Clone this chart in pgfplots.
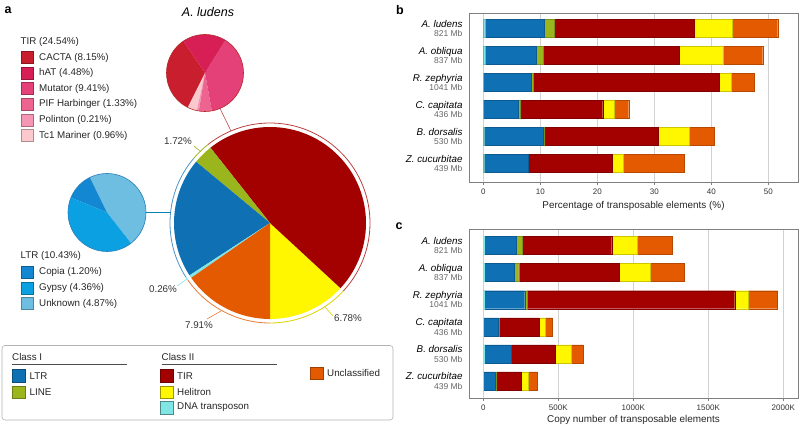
\documentclass[border=0pt]{standalone}
\usepackage{pgfplots}
\pgfplotsset{compat=1.18}
\usepackage{pgfplotstable}
\usepackage{fontspec}
\setmainfont{Liberation Sans}

\definecolor{cLTR}{HTML}{0F70B4}
\definecolor{cLINE}{HTML}{9BB51C}
\definecolor{cTIR}{HTML}{A30000}
\definecolor{cHel}{HTML}{FFF700}
\definecolor{cDNA}{HTML}{80E5E5}
\definecolor{cUnc}{HTML}{E35A00}
\definecolor{cCACTA}{HTML}{C81E2D}
\definecolor{chAT}{HTML}{D71E55}
\definecolor{cMut}{HTML}{E44178}
\definecolor{cPIF}{HTML}{EE6491}
\definecolor{cPol}{HTML}{F596B4}
\definecolor{cTc}{HTML}{FAC8CD}
\definecolor{cCop}{HTML}{1487D2}
\definecolor{cGyp}{HTML}{0AA0E1}
\definecolor{cUnk}{HTML}{6EBEE1}

\newcommand{\lf}{\fontsize{9.8}{11}\selectfont}
\newcommand{\slice}[6]{\fill[#6] (axis cs:#1,#2) -- ++(#4:#3) arc[start angle=#4, end angle=#5, radius=#3] -- cycle;}
\newcommand{\ring}[6]{\draw[#6] (axis cs:#1,#2) ++(#4:#3) arc[start angle=#4, end angle=#5, radius=#3];}

% main pie (class percentages of genome)
\def\vHel{6.78}\def\vTIR{24.54}\def\vLINE{1.72}\def\vLTR{10.43}\def\vDNA{0.26}\def\vUnc{7.91}
\pgfmathsetmacro\mT{\vHel+\vTIR+\vLINE+\vLTR+\vDNA+\vUnc}
\pgfmathsetmacro\mB{-90+360*\vHel/\mT}
\pgfmathsetmacro\mC{\mB+360*\vTIR/\mT}
\pgfmathsetmacro\mD{\mC+360*\vLINE/\mT}
\pgfmathsetmacro\mE{\mD+360*\vLTR/\mT}
\pgfmathsetmacro\mF{\mE+360*\vDNA/\mT}
% TIR sub pie
\def\tCACTA{8.15}\def\tTc{0.96}\def\tPol{0.21}\def\tPIF{1.33}\def\tMut{9.41}\def\thAT{4.48}
\pgfmathsetmacro\tT{\tCACTA+\tTc+\tPol+\tPIF+\tMut+\thAT}
\pgfmathsetmacro\tA{124}
\pgfmathsetmacro\tB{\tA+360*\tCACTA/\tT}
\pgfmathsetmacro\tC{\tB+360*\tTc/\tT}
\pgfmathsetmacro\tD{\tC+360*\tPol/\tT}
\pgfmathsetmacro\tE{\tD+360*\tPIF/\tT}
\pgfmathsetmacro\tF{\tE+360*\tMut/\tT}
\pgfmathsetmacro\tG{\tA+360}
% LTR sub pie
\def\lUnk{4.87}\def\lCop{1.20}\def\lGyp{4.36}
\pgfmathsetmacro\lT{\lUnk+\lCop+\lGyp}
\pgfmathsetmacro\lA{-52}
\pgfmathsetmacro\lB{\lA+360*\lUnk/\lT}
\pgfmathsetmacro\lC{\lB+360*\lCop/\lT}
\pgfmathsetmacro\lD{\lA+360}

\pgfplotstableread{
idx dna ltr line tir hel unc
0 0.26 10.43 1.72 24.54 6.78 7.91
1 0.30 8.94 1.23 23.97 7.55 7.01
2 0.05 8.31 0.47 32.57 2.05 4.09
3 0.05 6.15 0.35 14.39 1.93 2.63
4 0.20 10.38 0.10 20.02 5.38 4.50
5 0.10 7.74 0.10 14.67 1.99 10.70
}\tabB

\pgfplotstableread{
idx dna ltr line tir hel unc
0 5 213 42 596 171 235
1 5 202 29 671 206 227
2 3 273 17 1383 91 195
3 2 100 2 267 40 51
4 3 181 5 289 109 80
5 2 78 7 164 47 62
}\tabC

\pgfplotsset{
 barax/.style={
  scale only axis, width=329pt, height=168.5pt,
  xbar stacked, bar width=18pt,
  y dir=reverse,
  ytick={0,1,2,3,4,5},
  yticklabels={
   {\textit{A. ludens}\\{\fontsize{8.5}{9}\selectfont\color{black!60}821 Mb}},
   {\textit{A. obliqua}\\{\fontsize{8.5}{9}\selectfont\color{black!60}837 Mb}},
   {\textit{R. zephyria}\\{\fontsize{8.5}{9}\selectfont\color{black!60}1041 Mb}},
   {\textit{C. capitata}\\{\fontsize{8.5}{9}\selectfont\color{black!60}436 Mb}},
   {\textit{B. dorsalis}\\{\fontsize{8.5}{9}\selectfont\color{black!60}530 Mb}},
   {\textit{Z. cucurbitae}\\{\fontsize{8.5}{9}\selectfont\color{black!60}439 Mb}}},
  ytick style={draw=none},
  xtick pos=left, ytick pos=left,
  tick align=outside, major tick length=3pt,
  xtick style={gray, line width=0.5pt},
  axis line style={gray, line width=0.7pt},
  xmajorgrids, grid style={gray!35, line width=0.5pt},
  xticklabel style={font=\fontsize{8}{9}\selectfont, text=black!80},
  yticklabel style={align=right, font=\fontsize{9.8}{9.6}\selectfont, text=black},
  xlabel style={font=\fontsize{9.9}{11}\selectfont, text=black!85},
 },
}

\begin{document}%
\begin{tikzpicture}
\path[use as bounding box] (0pt,0pt) rectangle (800pt,425pt);
\begin{axis}[at={(0pt,0pt)}, anchor=south west, x=1pt, y=1pt,
  xmin=0, xmax=800, ymin=-425, ymax=0, enlargelimits=false, hide axis, clip=false]
% main pie
\slice{270}{-223}{96pt}{-90}{\mB}{cHel}
\slice{270}{-223}{96pt}{\mB}{\mC}{cTIR}
\slice{270}{-223}{96pt}{\mC}{\mD}{cLINE}
\slice{270}{-223}{96pt}{\mD}{\mE}{cLTR}
\slice{270}{-223}{96pt}{\mE}{\mF}{cDNA}
\slice{270}{-223}{96pt}{\mF}{270}{cUnc}
\ring{270}{-223}{100pt}{-90}{\mB}{cHel!85!black, line width=0.8pt}
\ring{270}{-223}{100pt}{\mB}{\mC}{cTIR!75!white, line width=0.8pt}
\ring{270}{-223}{100pt}{\mC}{\mD}{cLINE, line width=0.8pt}
\ring{270}{-223}{100pt}{\mD}{\mE}{cLTR!75!white, line width=0.8pt}
\ring{270}{-223}{100pt}{\mE}{\mF}{cDNA, line width=0.8pt}
\ring{270}{-223}{100pt}{\mF}{270}{cUnc!80!white, line width=0.8pt}
% TIR sub pie
\slice{205}{-73}{38.5pt}{\tA}{\tB}{cCACTA}
\slice{205}{-73}{38.5pt}{\tB}{\tC}{cTc}
\slice{205}{-73}{38.5pt}{\tC}{\tD}{cPol}
\slice{205}{-73}{38.5pt}{\tD}{\tE}{cPIF}
\slice{205}{-73}{38.5pt}{\tE}{\tF}{cMut}
\slice{205}{-73}{38.5pt}{\tF}{\tG}{chAT}
\draw[cTIR!85!white, line width=0.6pt] (axis cs:205,-73) circle[radius=38.5pt];
\draw[cTIR!70!white, line width=0.6pt] (axis cs:220,-108.5) -- (axis cs:231,-131);
% LTR sub pie
\slice{107}{-212.5}{39pt}{\lA}{\lB}{cUnk}
\slice{107}{-212.5}{39pt}{\lB}{\lC}{cCop}
\slice{107}{-212.5}{39pt}{\lC}{\lD}{cGyp}
\draw[cLTR!90!white, line width=0.6pt] (axis cs:107,-212.5) circle[radius=39pt];
\draw[cGyp!80!black, line width=0.6pt] (axis cs:146,-212.7) -- (axis cs:170.5,-212.7);
% leader lines and percentages
\draw[cLINE, line width=0.6pt] (axis cs:194,-146) -- (axis cs:201,-152);
\node[font=\lf, text=black!80] at (axis cs:178,-141) {1.72\%};
\draw[cDNA, line width=0.6pt] (axis cs:177,-286) -- (axis cs:187,-279);
\node[font=\lf, text=black!80] at (axis cs:163,-289) {0.26\%};
\draw[cUnc!80!white, line width=0.6pt] (axis cs:207,-319) -- (axis cs:221,-311);
\node[font=\lf, text=black!80] at (axis cs:199,-325) {7.91\%};
\draw[cHel!85!black, line width=0.6pt] (axis cs:325,-307) -- (axis cs:333,-316);
\node[font=\lf, text=black!80] at (axis cs:348,-318) {6.78\%};
% title and panel letters
\node[font=\itshape\fontsize{12.5}{13}\selectfont] at (axis cs:208,-12) {A. ludens};
\node[font=\bfseries\fontsize{12.5}{13}\selectfont] at (axis cs:8,-10) {a};
\node[font=\bfseries\fontsize{12.5}{13}\selectfont] at (axis cs:400,-10) {b};
\node[font=\bfseries\fontsize{12.5}{13}\selectfont] at (axis cs:399,-226) {c};
% TIR legend
\node[anchor=west, font=\lf, text=black!85, inner sep=0pt] at (axis cs:20.5,-41.7) {TIR (24.54\%)};
\filldraw[fill=cCACTA, draw=cCACTA!70!black, line width=0.4pt] (axis cs:20.7,-51.5) rectangle (axis cs:33.3,-63.5);
\node[anchor=west, font=\lf, text=black!85, inner sep=0pt] at (axis cs:39,-57.5) {CACTA (8.15\%)};
\filldraw[fill=chAT, draw=chAT!70!black, line width=0.4pt] (axis cs:20.7,-67.1) rectangle (axis cs:33.3,-79.1);
\node[anchor=west, font=\lf, text=black!85, inner sep=0pt] at (axis cs:39,-73.1) {hAT (4.48\%)};
\filldraw[fill=cMut, draw=cMut!70!black, line width=0.4pt] (axis cs:20.7,-82.7) rectangle (axis cs:33.3,-94.7);
\node[anchor=west, font=\lf, text=black!85, inner sep=0pt] at (axis cs:39,-88.7) {Mutator (9.41\%)};
\filldraw[fill=cPIF, draw=cPIF!70!black, line width=0.4pt] (axis cs:20.7,-98.3) rectangle (axis cs:33.3,-110.3);
\node[anchor=west, font=\lf, text=black!85, inner sep=0pt] at (axis cs:39,-104.3) {PIF Harbinger (1.33\%)};
\filldraw[fill=cPol, draw=cPol!70!black, line width=0.4pt] (axis cs:20.7,-113.9) rectangle (axis cs:33.3,-125.9);
\node[anchor=west, font=\lf, text=black!85, inner sep=0pt] at (axis cs:39,-119.9) {Polinton (0.21\%)};
\filldraw[fill=cTc, draw=cTc!70!black, line width=0.4pt] (axis cs:20.7,-129.5) rectangle (axis cs:33.3,-141.5);
\node[anchor=west, font=\lf, text=black!85, inner sep=0pt] at (axis cs:39,-135.5) {Tc1 Mariner (0.96\%)};
% LTR legend
\node[anchor=west, font=\lf, text=black!85, inner sep=0pt] at (axis cs:20.5,-255.7) {LTR (10.43\%)};
\filldraw[fill=cCop, draw=cCop!70!black, line width=0.4pt] (axis cs:20.7,-265.8) rectangle (axis cs:33.3,-277.8);
\node[anchor=west, font=\lf, text=black!85, inner sep=0pt] at (axis cs:39,-271.8) {Copia (1.20\%)};
\filldraw[fill=cGyp, draw=cGyp!70!black, line width=0.4pt] (axis cs:20.7,-281.8) rectangle (axis cs:33.3,-293.8);
\node[anchor=west, font=\lf, text=black!85, inner sep=0pt] at (axis cs:39,-287.8) {Gypsy (4.36\%)};
\filldraw[fill=cUnk, draw=cUnk!70!black, line width=0.4pt] (axis cs:20.7,-297.6) rectangle (axis cs:33.3,-309.6);
\node[anchor=west, font=\lf, text=black!85, inner sep=0pt] at (axis cs:39,-303.6) {Unknown (4.87\%)};
% bottom legend
\draw[gray!60, rounded corners=3pt, line width=0.6pt] (axis cs:2,-345.5) rectangle (axis cs:393,-420);
\node[anchor=west, font=\lf, text=black!85, inner sep=0pt] at (axis cs:12,-356.5) {Class I};
\draw[black!70, line width=0.5pt] (axis cs:12,-364.5) -- (axis cs:127,-364.5);
\filldraw[fill=cLTR, draw=cLTR!70!black, line width=0.4pt] (axis cs:12,-369.5) rectangle (axis cs:25,-382);
\node[anchor=west, font=\lf, text=black!85, inner sep=0pt] at (axis cs:29.5,-375.7) {LTR};
\filldraw[fill=cLINE, draw=cLINE!70!black, line width=0.4pt] (axis cs:12,-386) rectangle (axis cs:25,-398.5);
\node[anchor=west, font=\lf, text=black!85, inner sep=0pt] at (axis cs:29.5,-392) {LINE};
\node[anchor=west, font=\lf, text=black!85, inner sep=0pt] at (axis cs:161.5,-356.5) {Class II};
\draw[black!70, line width=0.5pt] (axis cs:161.5,-364.5) -- (axis cs:277,-364.5);
\filldraw[fill=cTIR, draw=cTIR!70!black, line width=0.4pt] (axis cs:160.5,-369.5) rectangle (axis cs:173,-382);
\node[anchor=west, font=\lf, text=black!85, inner sep=0pt] at (axis cs:177,-375.7) {TIR};
\filldraw[fill=cHel, draw=cHel!60!black, line width=0.4pt] (axis cs:160.5,-386) rectangle (axis cs:173,-398.5);
\node[anchor=west, font=\lf, text=black!85, inner sep=0pt] at (axis cs:177,-392) {Helitron};
\filldraw[fill=cDNA, draw=cDNA!60!black, line width=0.4pt] (axis cs:160.5,-401.5) rectangle (axis cs:173,-414);
\node[anchor=west, font=\lf, text=black!85, inner sep=0pt] at (axis cs:177,-407.5) {DNA transposon};
\filldraw[fill=cUnc, draw=cUnc!70!black, line width=0.4pt] (axis cs:310,-367) rectangle (axis cs:323,-379.5);
\node[anchor=west, font=\lf, text=black!85, inner sep=0pt] at (axis cs:327,-373.3) {Unclassified};
\end{axis}
% panel b
\begin{axis}[barax, at={(469pt,243pt)}, anchor=south west,
  xmin=-2.5, xmax=55.2, ymin=-0.55, ymax=5.69,
  xtick={0,10,20,30,40,50}, xticklabels={0,10,20,30,40,50},
  xlabel={Percentage of transposable elements (\%)}]
\addplot[fill=cDNA, draw=cDNA!80!black, line width=0.3pt] table[x=dna, y=idx] {\tabB};
\addplot[fill=cLTR, draw=cLTR!80!black, line width=0.3pt] table[x=ltr, y=idx] {\tabB};
\addplot[fill=cLINE, draw=cLINE!80!black, line width=0.3pt] table[x=line, y=idx] {\tabB};
\addplot[fill=cTIR, draw=cTIR!80!black, line width=0.3pt] table[x=tir, y=idx] {\tabB};
\addplot[fill=cHel, draw=cHel!80!black, line width=0.3pt] table[x=hel, y=idx] {\tabB};
\addplot[fill=cUnc, draw=cUnc!80!black, line width=0.3pt] table[x=unc, y=idx] {\tabB};
\end{axis}
% panel c
\begin{axis}[barax, at={(469pt,27pt)}, anchor=south west,
  xmin=-95, xmax=2098, ymin=-0.59, ymax=5.63,
  xtick={0,500,1000,1500,2000}, xticklabels={0,500K,1000K,1500K,2000K},
  xlabel={Copy number of transposable elements},
  xlabel style={yshift=2pt}]
\addplot[fill=cDNA, draw=cDNA, line width=0.2pt] table[x=dna, y=idx] {\tabC};
\addplot[fill=cLTR, draw=cLTR!80!black, line width=0.3pt] table[x=ltr, y=idx] {\tabC};
\addplot[fill=cLINE, draw=cLINE!80!black, line width=0.3pt] table[x=line, y=idx] {\tabC};
\addplot[fill=cTIR, draw=cTIR!80!black, line width=0.3pt] table[x=tir, y=idx] {\tabC};
\addplot[fill=cHel, draw=cHel!80!black, line width=0.3pt] table[x=hel, y=idx] {\tabC};
\addplot[fill=cUnc, draw=cUnc!80!black, line width=0.3pt] table[x=unc, y=idx] {\tabC};
\end{axis}
\end{tikzpicture}%
\end{document}
